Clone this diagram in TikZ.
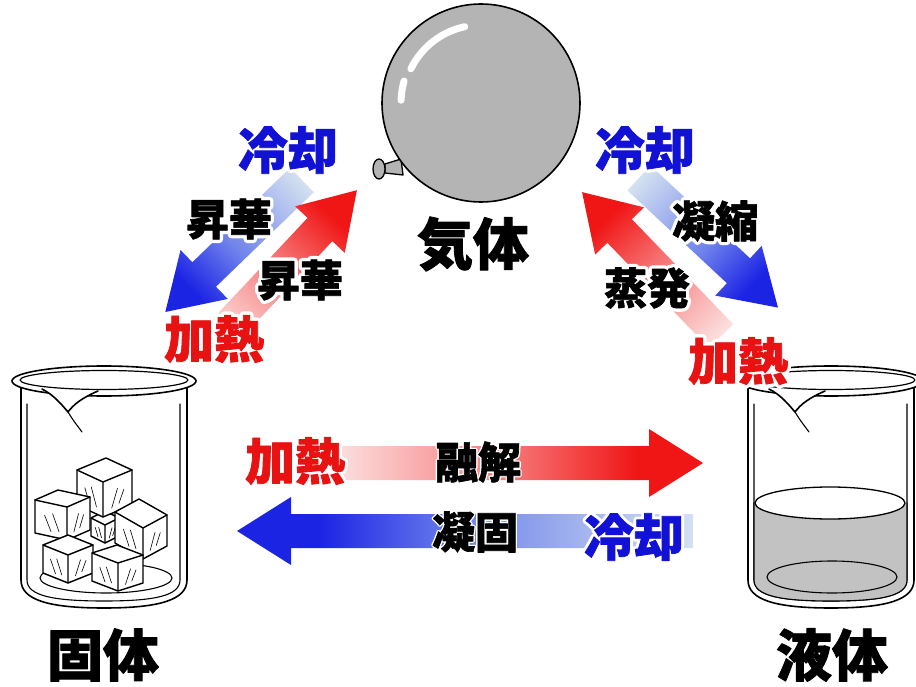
\documentclass[tikz,border=0pt]{standalone}
\usepackage{fontspec}
\newfontfamily\jp{Noto Sans CJK JP}

% colours
\definecolor{redtxt}{RGB}{232,18,18}
\definecolor{bluetxt}{RGB}{18,18,215}
\definecolor{rtail}{RGB}{252,224,224}
\definecolor{rmid}{RGB}{246,112,112}
\definecolor{rhead}{RGB}{240,22,22}
\definecolor{btail}{RGB}{212,225,240}
\definecolor{bmid}{RGB}{112,132,236}
\definecolor{bhead}{RGB}{28,36,228}
\definecolor{balloongray}{RGB}{180,180,180}
\definecolor{liquidgray}{RGB}{194,194,194}

% gradients running from the tail of a block arrow to its head
\pgfdeclarehorizontalshading{redfade}{100bp}{color(0bp)=(rtail); color(25bp)=(rtail); color(50bp)=(rmid); color(66bp)=(rhead); color(100bp)=(rhead)}
\pgfdeclarehorizontalshading{bluefade}{100bp}{color(0bp)=(btail); color(25bp)=(btail); color(50bp)=(bmid); color(66bp)=(bhead); color(100bp)=(bhead)}

% heavy Japanese type; the second form is stroked wide for a white halo
\newcommand\jpsize[1]{\jp\bfseries\fontsize{#1}{#1}\addfontfeatures{FakeBold=1.5}}
\newcommand\jphalo[2]{\jp\bfseries\fontsize{#1}{#1}\addfontfeatures{FakeBold=#2}}

% block arrow: tail point, direction (deg), length, shading
\newcommand\blockarrow[4]{%
  \begin{scope}[transform canvas={shift={#1}, rotate=#2}]
    \shade[shading=#4] (0,-17) -- ({#3-54},-17) -- ({#3-54},-34) -- (#3,0)
      -- ({#3-54},34) -- ({#3-54},17) -- (0,17) -- cycle;
  \end{scope}}

% text with a white halo: name, position, size, colour, halo strength, text
\newcommand\halolabel[6]{%
  \node[lbl, text=white, line join=round, miter limit=1, font={\jphalo{#3}{#5}}] (#1-halo) at #2 {#6};%
  \node[lbl, text=#4, font={\jpsize{#3}}] (#1) at #2 {#6};}

% ice cube: front top corner (x,y), left edge (ux,uy), right edge (vx,vy), height
\newcommand\icecube[7]{%
  \begin{scope}[shift={(#1,#2)}]
    \filldraw[cube] (#3,#4) -- ({#3+#5},{#4+#6}) -- (#5,#6) -- (#5,{#6+#7})
      -- (0,#7) -- (#3,{#4+#7}) -- cycle;
    \draw[cube] (#3,#4) -- (0,0) -- (#5,#6) (0,0) -- (0,#7);
    \draw[gloss] ({0.25*#3},{0.25*#4+0.8*#7}) -- ({0.45*#3},{0.45*#4+0.3*#7})
                 ({0.5*#3},{0.5*#4+0.85*#7}) -- ({0.7*#3},{0.7*#4+0.4*#7})
                 ({0.3*#5},{0.3*#6+0.85*#7}) -- ({0.5*#5},{0.5*#6+0.35*#7})
                 ({0.55*#5},{0.55*#6+0.8*#7}) -- ({0.72*#5},{0.72*#6+0.45*#7});
  \end{scope}}

% beaker body centred on x
\newcommand\beaker[1]{%
  \begin{scope}[shift={(#1,0)}]
    \filldraw[glass, fill=white] (-83,388) -- (-83,580) .. controls (-83,600) and (-55,608) .. (0,608)
      .. controls (55,608) and (83,600) .. (83,580) -- (83,388);
    \draw[glass, line width=1.1pt] (-77,404) -- (-77,580) .. controls (-77,596) and (-50,601) .. (0,601)
      .. controls (50,601) and (76,596) .. (76,580) -- (76,404);
  \end{scope}}
% beaker rim with pouring lip
\newcommand\beakerrim[1]{%
  \begin{scope}[shift={(#1,0)}]
    \filldraw[glass, fill=white] (0,381) ellipse [x radius=92pt, y radius=15pt];
    \draw[glass, line width=1.2pt] (0,380) ellipse [x radius=84pt, y radius=9.5pt];
    \fill[white] (-60,390) .. controls (-48,396) and (-42,406) .. (-36,412)
      .. controls (-30,404) and (-22,398) .. (-8,392) -- cycle;
    \draw[glass] (-62,389) .. controls (-50,395) and (-42,405) .. (-36,412)
      .. controls (-30,404) and (-22,398) .. (-6,391);
    \draw[glass, line width=1.1pt] (-36,412) .. controls (-31,420) .. (-22,432);
  \end{scope}}

\begin{document}
\begin{tikzpicture}[x=1pt, y=-1pt, line join=round, line cap=round,
  lbl/.style={inner sep=0pt, anchor=center},
  glass/.style={draw=black, line width=1.6pt},
  cube/.style={draw=black, line width=1.4pt, fill=white},
  gloss/.style={draw=black, line width=0.6pt},
  highlight/.style={draw=white, line width=7pt, line cap=round}]

\path[use as bounding box, fill=white] (0,0) rectangle (916,687);

% --- beakers ---------------------------------------------------------
\beaker{104}
\draw[glass, line width=1.1pt] (106,578) ellipse [x radius=66pt, y radius=15pt];
\icecube{105}{525}{-14}{-7}{14}{-7}{18}
\icecube{103}{482}{-26}{-12}{29}{-12}{35}
\icecube{67}{507}{-32}{-7}{23}{-10}{33}
\icecube{143}{528}{-28}{-16}{24}{-13}{31}
\icecube{68}{555}{-25}{-10}{25}{-10}{28}
\icecube{118}{563}{-26}{-10}{25}{-8}{28}
\beakerrim{104}

\beaker{831}
\fill[liquidgray] (754,503) -- (754,580) .. controls (754,596) and (781,601) .. (831,601)
  .. controls (881,601) and (907,596) .. (907,580) -- (907,503) -- cycle;
\draw[glass, line width=1.1pt] (831,601) .. controls (881,601) and (907,596) .. (907,580) -- (907,503)
  (754,503) -- (754,580) .. controls (754,596) and (781,601) .. (831,601);
\filldraw[glass, line width=1.3pt, fill=white] (830,503) ellipse [x radius=75pt, y radius=16pt];
\draw[glass, line width=1.1pt] (832,577) ellipse [x radius=65pt, y radius=16pt];
\beakerrim{831}

% --- balloon ---------------------------------------------------------
\filldraw[draw=black, line width=1.3pt, fill=balloongray]
  (401,159) -- (385,164) -- (385,173) -- (403,175) -- cycle;
\filldraw[draw=black, line width=1.3pt, fill=balloongray] (379,169) ellipse [x radius=6pt, y radius=10pt];
\filldraw[draw=black, line width=1.6pt, fill=balloongray] (481,103) circle [radius=99pt];
\draw[highlight] ([shift={(102:78pt)}]481,103) arc [start angle=102, end angle=154, radius=78pt];
\draw[highlight] ([shift={(164:80pt)}]481,103) arc [start angle=164, end angle=178, radius=80pt];

% --- block arrows ----------------------------------------------------
\blockarrow{(302,180)}{224}{190}{bluefade}
\blockarrow{(220,336)}{46.8}{200}{redfade}
\blockarrow{(639,178)}{-43}{190}{bluefade}
\blockarrow{(721,336)}{134}{200}{redfade}
\blockarrow{(335,463)}{0}{368}{redfade}
\blockarrow{(693,531)}{180}{456}{bluefade}

% --- labels ----------------------------------------------------------
\node[lbl, font={\jpsize{56}}] (gas) at (473,244) {気体};
\node[lbl, font={\jpsize{56}}] (solid) at (103,655) {固体};
\node[lbl, font={\jpsize{56}}] (liquid) at (832,655) {液体};

\halolabel{coolL}{(288,150)}{50}{bluetxt}{15}{冷却}
\halolabel{subA}{(229,219)}{43}{black}{17}{昇華}
\halolabel{subB}{(300,280)}{43}{black}{17}{昇華}
\halolabel{heatL}{(214,339)}{50}{redtxt}{15}{加熱}
\halolabel{coolR}{(645,150)}{50}{bluetxt}{15}{冷却}
\halolabel{cond}{(715,221)}{43}{black}{17}{凝縮}
\halolabel{evap}{(647,288)}{43}{black}{17}{蒸発}
\halolabel{heatR}{(738,361)}{50}{redtxt}{15}{加熱}
\halolabel{heatH}{(295,461)}{50}{redtxt}{13}{加熱}
\halolabel{melt}{(478,462)}{43}{black}{8}{融解}
\halolabel{freeze}{(475,532)}{43}{black}{8}{凝固}
\halolabel{coolH}{(634,537)}{50}{bluetxt}{13}{冷却}
\end{tikzpicture}
\end{document}
